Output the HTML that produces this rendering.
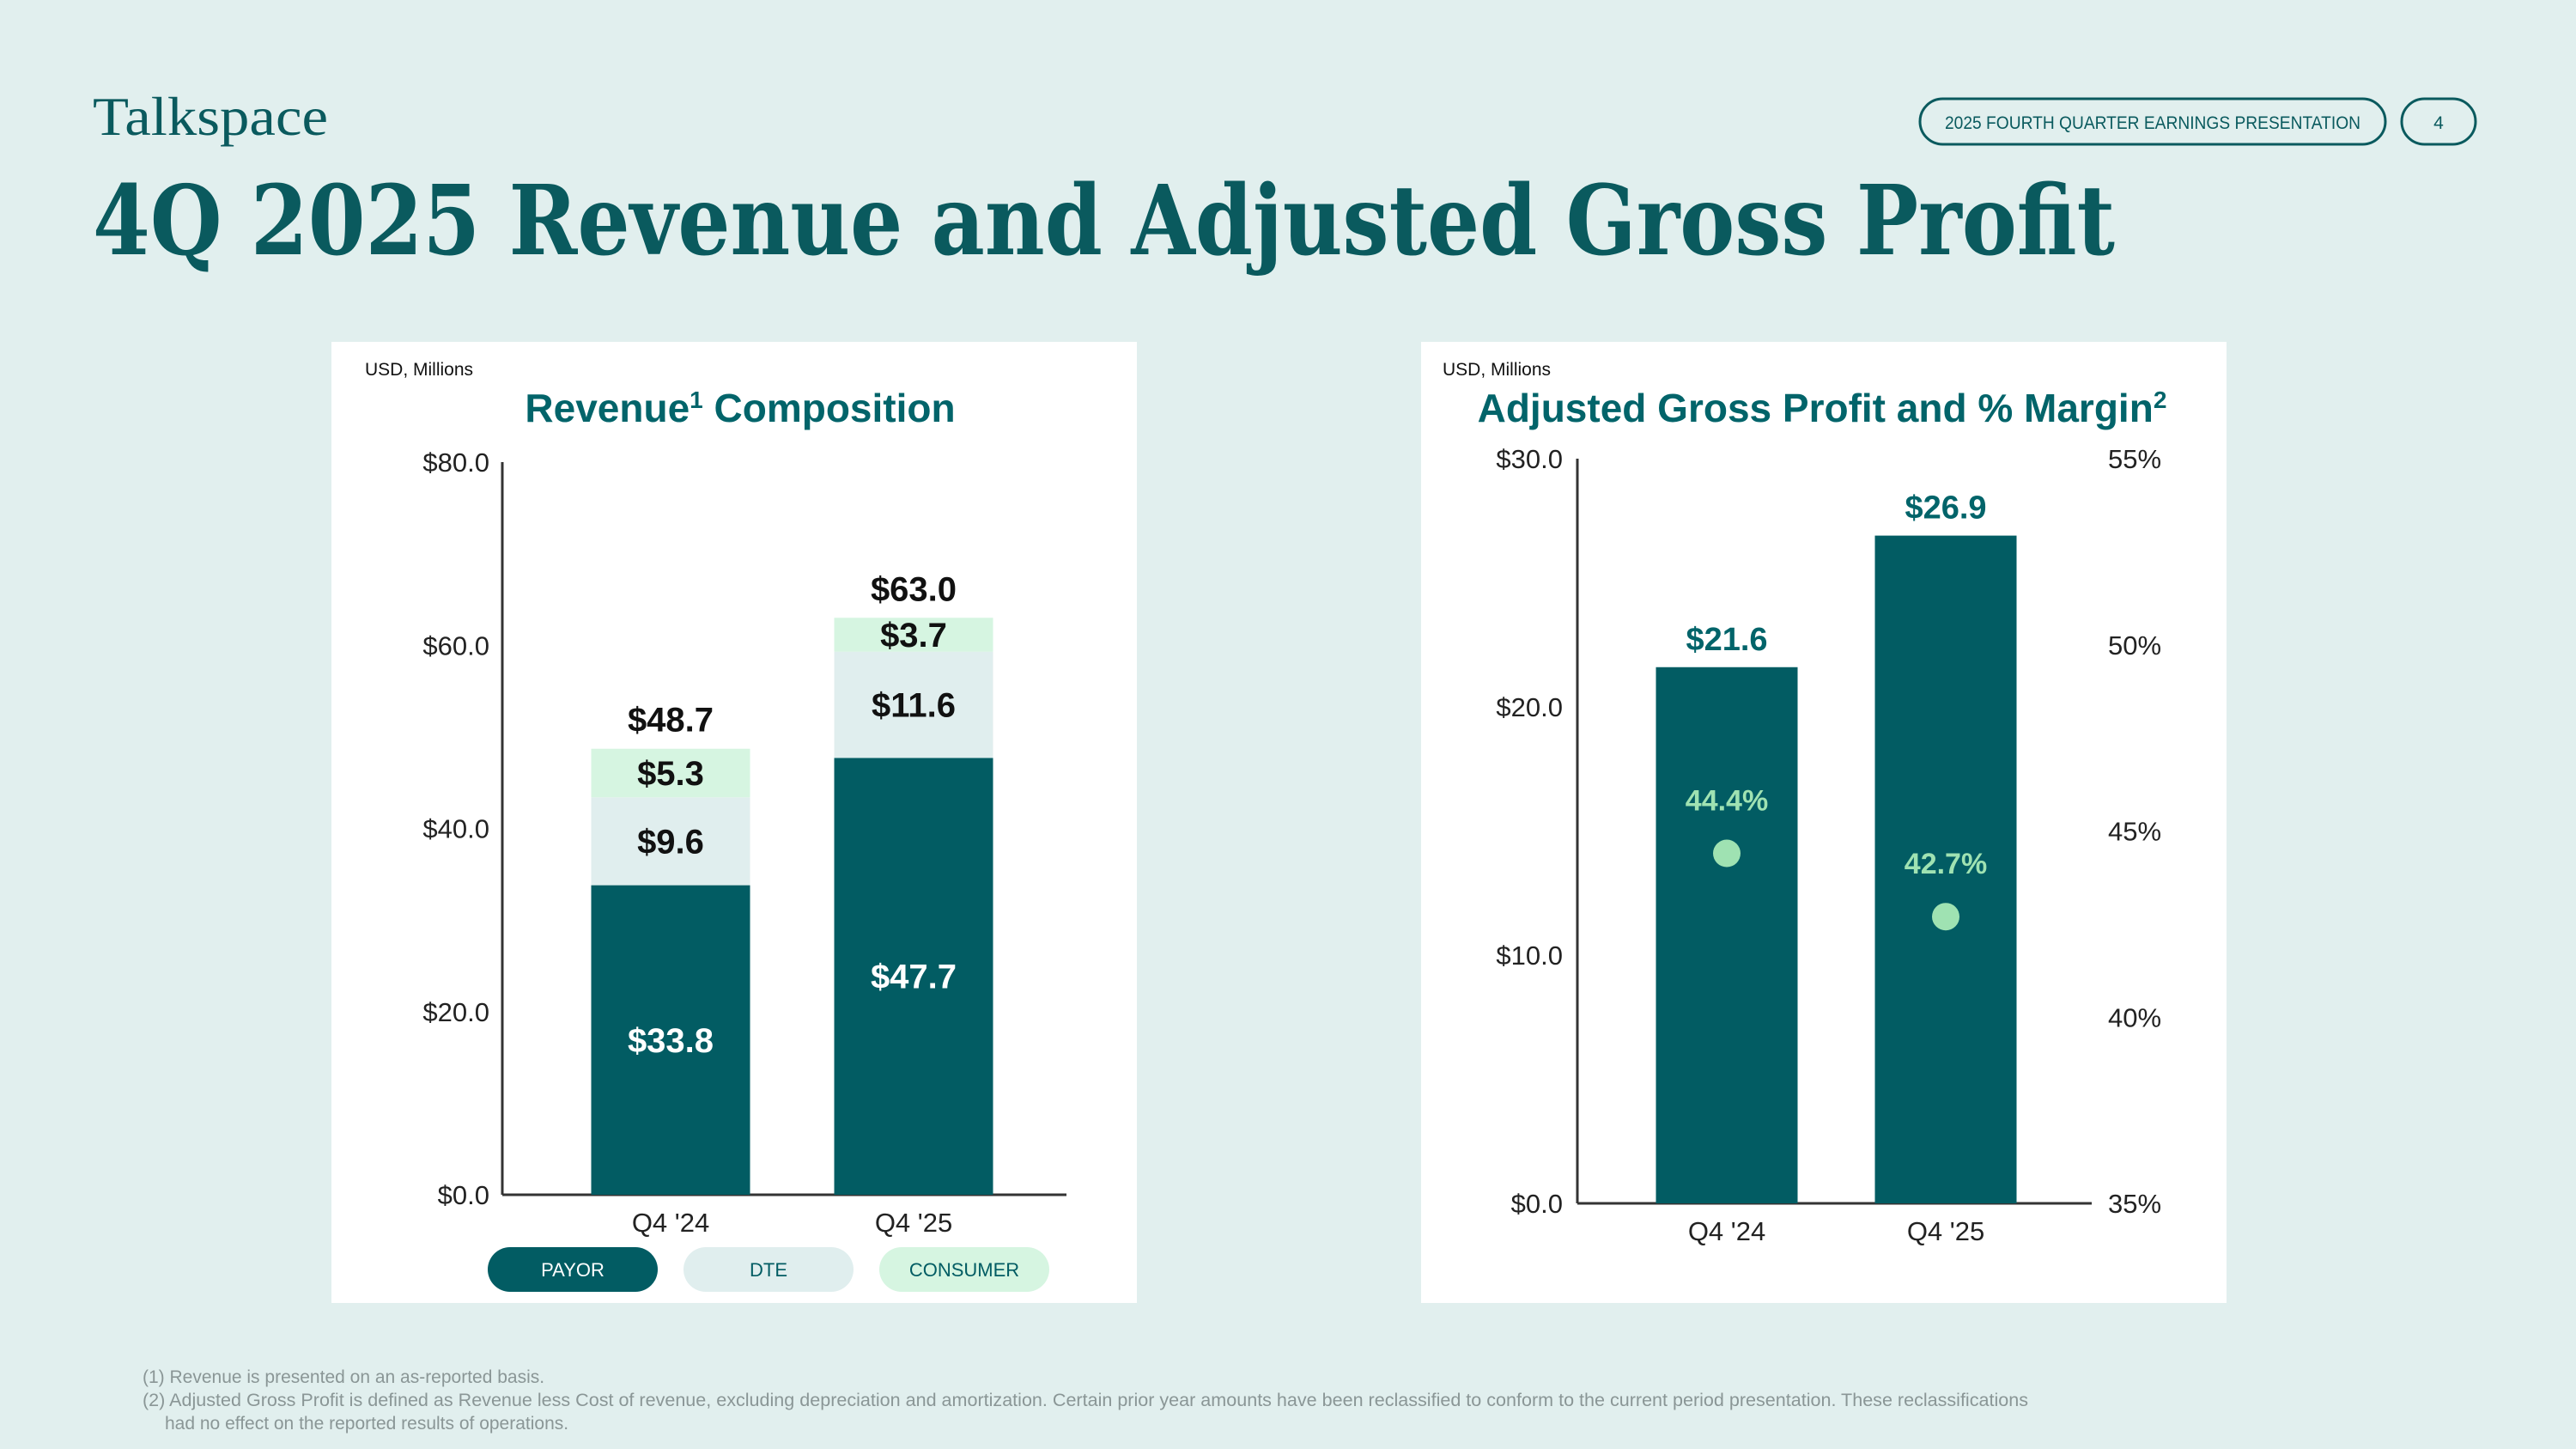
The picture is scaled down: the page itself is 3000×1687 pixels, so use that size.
<!DOCTYPE html>
<html><head><meta charset="utf-8"><style>
html,body{margin:0;padding:0;background:#e1efee;}
svg{display:block;font-family:"Liberation Sans",sans-serif;}
</style></head><body>
<svg id="s" width="3000" height="1687" viewBox="0 0 3000 1687" xmlns="http://www.w3.org/2000/svg">
<rect x="0" y="0" width="3000" height="1687" fill="#e1efee"/>
<text x="108" y="157" font-family="Liberation Serif,serif" font-size="64" fill="#0a5a5e" textLength="274" lengthAdjust="spacingAndGlyphs">Talkspace</text>
<rect x="2236" y="115" width="542" height="53" rx="26.5" fill="none" stroke="#0a5a5e" stroke-width="3"/>
<text x="2507" y="150" text-anchor="middle" font-size="21" fill="#0a5a5e" textLength="484" lengthAdjust="spacingAndGlyphs">2025 FOURTH QUARTER EARNINGS PRESENTATION</text>
<rect x="2797" y="115" width="86" height="53" rx="26.5" fill="none" stroke="#0a5a5e" stroke-width="3"/>
<text x="2840" y="150" text-anchor="middle" font-size="21" fill="#0a5a5e">4</text>
<text x="108" y="296" font-family="DejaVu Serif,serif" font-weight="bold" font-size="112" fill="#0a5a5e" textLength="2355" lengthAdjust="spacingAndGlyphs">4Q 2025 Revenue and Adjusted Gross Profit</text>

<rect x="386" y="398" width="938" height="1119" fill="#fff"/>
<rect x="1655" y="398" width="938" height="1119" fill="#fff"/>
<text x="425" y="437" font-size="21" fill="#111">USD, Millions</text>
<text x="1680" y="437" font-size="21" fill="#111">USD, Millions</text>
<text x="862" y="491" text-anchor="middle" font-size="46" font-weight="bold" fill="#02646a">Revenue<tspan font-size="28" dy="-16">1</tspan><tspan dy="16"> Composition</tspan></text>
<text x="2122" y="491" text-anchor="middle" font-size="46" font-weight="bold" fill="#02646a">Adjusted Gross Profit and % Margin<tspan font-size="28" dy="-16">2</tspan></text>
<g id="left"></g>
<g id="right"></g>

<g font-size="21" fill="#8a9696">
<text x="166" y="1610">(1) Revenue is presented on an as-reported basis.</text>
<text x="166" y="1637" textLength="2196" lengthAdjust="spacingAndGlyphs">(2) Adjusted Gross Profit is defined as Revenue less Cost of revenue, excluding depreciation and amortization. Certain prior year amounts have been reclassified to conform to the current period presentation. These reclassifications</text>
<text x="192" y="1664">had no effect on the reported results of operations.</text>
</g>
</svg>
<script>
const revCategories=["Q4 '24","Q4 '25"];
const payor=[33.8,47.7];
const dte=[9.6,11.6];
const consumer=[5.3,3.7];
const revTicks=[0,20,40,60,80];
const gpCategories=["Q4 '24","Q4 '25"];
const grossProfit=[21.6,26.9];
const margin=[44.4,42.7];
const gpTicks=[0,10,20,30];
const marginTicks=[35,40,45,50,55];

const NS="http://www.w3.org/2000/svg";
function mk(parent,tag,attrs,text){const e=document.createElementNS(NS,tag);for(const k in attrs)e.setAttribute(k,attrs[k]);if(text!==undefined)e.textContent=text;parent.appendChild(e);return e;}

// Left chart
const L=document.getElementById('left');
const ly=v=>1391-(v/80)*853;
const lx=i=>781+i*283;
const bw=185;
revTicks.forEach(t=>{const e=mk(L,'text',{x:570,y:ly(t)+11,'text-anchor':'end','font-size':31,fill:'#222'},'$'+t.toFixed(1));

});
let a=mk(L,'line',{x1:585,y1:ly(80),x2:585,y2:1391,stroke:'#333','stroke-width':3});


a=mk(L,'line',{x1:585,y1:1391,x2:1242,y2:1391,stroke:'#333','stroke-width':3});


revCategories.forEach((c,i)=>{
  const cx=lx(i),x=cx-bw/2;
  const p=payor[i],d=dte[i],s=consumer[i],tot=p+d+s;
  let r=mk(L,'rect',{x:x,y:ly(p),width:bw,height:ly(0)-ly(p),fill:'#025c63'});
  
  
  r=mk(L,'rect',{x:x,y:ly(p+d),width:bw,height:ly(p)-ly(p+d),fill:'#e0eeee'});
  
  
  r=mk(L,'rect',{x:x,y:ly(tot),width:bw,height:ly(p+d)-ly(tot),fill:'#d6f5e1'});
  
  
  let t=mk(L,'text',{x:cx,y:(ly(0)+ly(p))/2+14,'text-anchor':'middle','font-size':40,'font-weight':'bold',fill:'#fff'},'$'+p.toFixed(1));
  
  
  t=mk(L,'text',{x:cx,y:(ly(p)+ly(p+d))/2+14,'text-anchor':'middle','font-size':40,'font-weight':'bold',fill:'#111'},'$'+d.toFixed(1));
  
  
  t=mk(L,'text',{x:cx,y:(ly(p+d)+ly(tot))/2+14,'text-anchor':'middle','font-size':40,'font-weight':'bold',fill:'#111'},'$'+s.toFixed(1));
  
  
  t=mk(L,'text',{x:cx,y:ly(tot)-20,'text-anchor':'middle','font-size':40,'font-weight':'bold',fill:'#111'},'$'+tot.toFixed(1));
  
  
  t=mk(L,'text',{x:cx,y:1434,'text-anchor':'middle','font-size':31,fill:'#222'},c);
  
  
});
const legend=[["PAYOR",'#025c63','#fff'],["DTE",'#e0eeee','#025c63'],["CONSUMER",'#d6f5e1','#025c63']];
legend.forEach((l,i)=>{
  const x=568+i*228;
  const g=mk(L,'g',{});
  
  
  mk(g,'rect',{x:x,y:1452,width:198,height:52,rx:26,fill:l[1]});
  mk(g,'text',{x:x+99,y:1486,'text-anchor':'middle','font-size':22,fill:l[2]},l[0]);
});

// Right chart
const R=document.getElementById('right');
const ry=v=>1401-(v/30)*867;
const my=v=>1401-((v-35)/20)*867;
const rx=i=>2011+i*255;
const rbw=165;
gpTicks.forEach(t=>{const e=mk(R,'text',{x:1820,y:ry(t)+11,'text-anchor':'end','font-size':31,fill:'#222'},'$'+t.toFixed(1));

});
marginTicks.forEach(t=>{const e=mk(R,'text',{x:2455,y:my(t)+11,'font-size':31,fill:'#222'},t+'%');

});
a=mk(R,'line',{x1:1837,y1:ry(30),x2:1837,y2:1401,stroke:'#333','stroke-width':3});


a=mk(R,'line',{x1:1837,y1:1401,x2:2436,y2:1401,stroke:'#333','stroke-width':3});


gpCategories.forEach((c,i)=>{
  const cx=rx(i),v=grossProfit[i],m=margin[i];
  let r=mk(R,'rect',{x:cx-rbw/2,y:ry(v),width:rbw,height:ry(0)-ry(v),fill:'#025c63'});
  
  
  let t=mk(R,'text',{x:cx,y:ry(v)-20,'text-anchor':'middle','font-size':38,'font-weight':'bold',fill:'#02646a'},'$'+v.toFixed(1));
  
  
  const d=mk(R,'circle',{cx:cx,cy:my(m),r:16,fill:'#9fe2b2'});
  
  
  t=mk(R,'text',{x:cx,y:my(m)-50,'text-anchor':'middle','font-size':34,'font-weight':'bold',fill:'#9fe2b2'},m.toFixed(1)+'%');
  
  
  t=mk(R,'text',{x:cx,y:1444,'text-anchor':'middle','font-size':31,fill:'#222'},c);
  
  
});
</script>
</body></html>
